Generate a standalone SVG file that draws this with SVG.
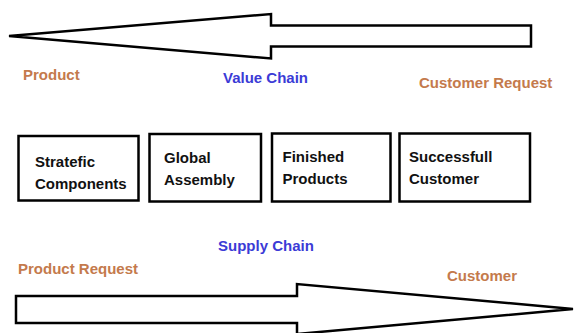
<svg xmlns="http://www.w3.org/2000/svg" width="575" height="333" viewBox="0 0 575 333">
  <style>
    .arrow { fill: #ffffff; stroke: #000000; stroke-width: 2.5; stroke-linejoin: miter; }
    .box { fill: #ffffff; stroke: #000000; stroke-width: 2.5; }
    .node-text { font-family: "Liberation Sans", Arial, sans-serif; font-weight: bold; font-size: 15px; fill: #111111; }
    .label-brown { font-family: "Liberation Sans", Arial, sans-serif; font-weight: bold; font-size: 15px; fill: #c47a4c; }
    .label-blue { font-family: "Liberation Sans", Arial, sans-serif; font-weight: bold; font-size: 15px; fill: #3b3bd6; }
  </style>
  <rect width="575" height="333" fill="#ffffff"/>

  <g id="connectors">
    <!-- value chain: block arrow pointing left -->
    <polygon class="arrow" points="9,36 271,14 271,25.5 531,25.5 531,46.5 271,46.5 271,58.5"/>
    <!-- supply chain: block arrow pointing right -->
    <polygon class="arrow" points="16,296 297,296 297,284 573,309 297,334 297,323 16,323"/>
  </g>

  <g id="labels">
    <text class="label-brown" x="23" y="80">Product</text>
    <text class="label-blue" x="223" y="83">Value Chain</text>
    <text class="label-brown" x="419" y="88">Customer Request</text>
    <text class="label-blue" x="218" y="251">Supply Chain</text>
    <text class="label-brown" x="18" y="274">Product Request</text>
    <text class="label-brown" x="447" y="281">Customer</text>
  </g>

  <g id="node-strategic-components">
    <rect class="box" x="18.5" y="136" width="120" height="64.5"/>
    <text class="node-text" x="35" y="167">Stratefic</text>
    <text class="node-text" x="35" y="189">Components</text>
  </g>

  <g id="node-global-assembly">
    <rect class="box" x="149.5" y="134" width="111.5" height="67.5"/>
    <text class="node-text" x="164" y="163">Global</text>
    <text class="node-text" x="164" y="185">Assembly</text>
  </g>

  <g id="node-finished-products">
    <rect class="box" x="272" y="133.5" width="118.5" height="68"/>
    <text class="node-text" x="282.5" y="162">Finished</text>
    <text class="node-text" x="282.5" y="184">Products</text>
  </g>

  <g id="node-successfull-customer">
    <rect class="box" x="399.5" y="133.5" width="130.5" height="68"/>
    <text class="node-text" x="409" y="162">Successfull</text>
    <text class="node-text" x="409" y="184">Customer</text>
  </g>
</svg>
